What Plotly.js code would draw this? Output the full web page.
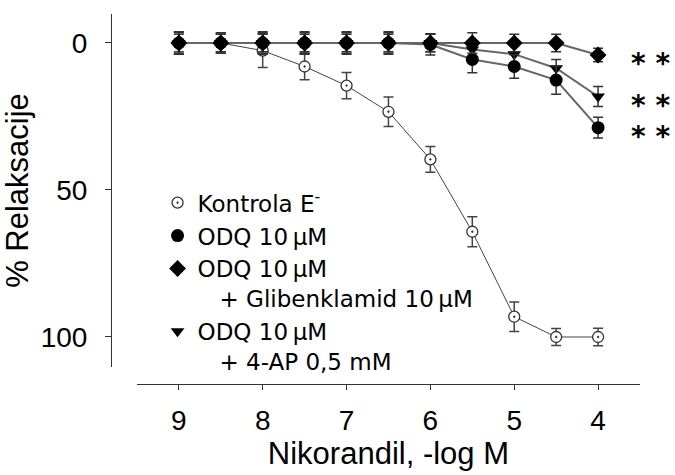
<!DOCTYPE html>
<html>
<head>
<meta charset="utf-8">
<script src="https://cdn.plot.ly/plotly-3.0.1.min.js"></script>
<style>html,body{margin:0;padding:0;background:#fff;}#chart{width:675px;height:475px;}</style>
</head>
<body>
<div id="chart"></div>
<script>
// -log M concentrations of nikorandil
const logM = [9, 8.5, 8, 7.5, 7, 6.5, 6, 5.5, 5, 4.5, 4];

// % relaxation (mean) and error (SEM)
const kontrola     = [0, 0, 2.6, 8.0, 14.5, 23.4, 39.6, 64.2, 93.1, 100, 100];
const kontrolaErr  = [3, 3, 5.7, 4.5, 4.5, 5.0, 4.4, 5.1, 5.0, 2.9, 3.0];

const odq          = [0, 0, 0, 0, 0, 0, 0.5, 5.6, 8.0, 12.6, 28.8];
const odqErr       = [3.8, 3.5, 3.5, 3.5, 3.5, 3.5, 3.6, 4.5, 4.0, 4.8, 3.5];

const odqGlib      = [0, 0, 0, 0, 0, 0, 0, 0, 0, 0, 4.1];
const odqGlibErr   = [3.8, 3.5, 3.8, 3.8, 3.8, 3.8, 3.0, 3.5, 3.0, 3.0, 2.3];

const odq4AP       = [0, 0, 0, 0, 0, 0, 0, 2.2, 3.8, 8.6, 18.2];
const odq4APErr    = [3.5, 3.0, 3.0, 3.0, 3.0, 3.0, 3.0, 3.0, 3.0, 3.0, 3.4];

const seriesNames = [
  'Kontrola E<sup>-</sup>',
  'ODQ 10\u2009µM',
  'ODQ 10\u2009µM<br>\u00a0\u00a0\u00a0+ Glibenklamid 10\u2009µM',
  'ODQ 10\u2009µM<br>\u00a0\u00a0\u00a0+ 4-AP 0,5 mM'
];
const xTickVals = [9, 8, 7, 6, 5, 4];
const yTickVals = [0, 50, 100];
const signifText = '*\u00a0*';

const FONT = '"Liberation Sans", Arial, sans-serif';
const LFONT = '"DejaVu Sans", "Liberation Sans", sans-serif';

function errCfg(arr, color) {
  return {type: 'data', array: arr, visible: true, color: color, thickness: 1.5, width: 5};
}

const series = [
  {y: kontrola, err: kontrolaErr, name: seriesNames[0], rank: 1,
   line: {color: '#444', width: 1},
   marker: {symbol: 'circle-dot', size: 11, color: '#fff', line: {color: '#333', width: 1.3}}, ecol: '#444'},
  {y: odq4AP, err: odq4APErr, name: seriesNames[3], rank: 4,
   line: {color: '#666', width: 2},
   marker: {symbol: 'triangle-down', size: 12, color: '#000'}, ecol: '#333'},
  {y: odq, err: odqErr, name: seriesNames[1], rank: 2,
   line: {color: '#666', width: 2},
   marker: {symbol: 'circle', size: 13, color: '#000'}, ecol: '#333'},
  {y: odqGlib, err: odqGlibErr, name: seriesNames[2], rank: 3,
   line: {color: '#666', width: 2},
   marker: {symbol: 'diamond', size: 13, color: '#000'}, ecol: '#333'}
];

const traces = [];
// connecting lines (no legend entries)
series.forEach(s => traces.push({
  x: logM, y: s.y, type: 'scatter', mode: 'lines', line: s.line,
  showlegend: false, hoverinfo: 'skip', cliponaxis: false
}));
// markers with error bars (legend shows markers only)
series.forEach(s => traces.push({
  x: logM, y: s.y, name: s.name, type: 'scatter', mode: 'markers',
  marker: s.marker, error_y: errCfg(s.err, s.ecol), legendrank: s.rank, cliponaxis: false
}));

const lastIdx = logM.length - 1;
const annotations = [odqGlib, odq4AP, odq].map(s => ({
  x: logM[lastIdx], y: s[lastIdx], xref: 'x', yref: 'y',
  text: '<b>' + signifText + '</b>', showarrow: false, xshift: 52, yshift: -8, height: 22,
  font: {family: LFONT, size: 28, color: '#000'}
}));

const layout = {
  width: 675, height: 475,
  margin: {l: 111, r: 35, t: 14, b: 91, pad: 0},
  paper_bgcolor: '#fff', plot_bgcolor: '#fff',
  font: {family: FONT, color: '#000'},
  showlegend: true,
  legend: {
    x: 0.088, y: 0.548, xanchor: 'left', yanchor: 'top',
    font: {family: LFONT, size: 23, color: '#000'},
    bgcolor: 'rgba(0,0,0,0)', borderwidth: 0, valign: 'top',
    tracegroupgap: 0, traceorder: 'normal', itemsizing: 'trace'
  },
  xaxis: {
    domain: [0.049, 1], anchor: 'free', position: 0,
    range: [9.5, 3.5], tickvals: xTickVals, ticktext: xTickVals.map(String),
    showgrid: false, zeroline: false, showline: true, linecolor: '#333', linewidth: 1,
    ticks: 'outside', ticklen: 5, tickcolor: '#333', tickwidth: 1,
    tickfont: {family: FONT, size: 28, color: '#000'}, ticklabelstandoff: 6,
    title: {text: 'Nikorandil, -log M', font: {family: FONT, size: 31, color: '#000'}, standoff: 4}
  },
  yaxis: {
    domain: [0.046, 1], anchor: 'free', position: 0,
    range: [110.2, -9.86], tickvals: yTickVals, ticktext: yTickVals.map(String),
    showgrid: false, zeroline: false, showline: true, linecolor: '#333', linewidth: 1,
    ticks: 'outside', ticklen: 6, tickcolor: '#333', tickwidth: 1,
    tickfont: {family: FONT, size: 28, color: '#000'}, ticklabelstandoff: 12,
    title: {text: '% Relaksacije', font: {family: FONT, size: 31, color: '#000'}, standoff: 12}
  },
  annotations: annotations
};

Plotly.newPlot('chart', traces, layout, {displayModeBar: false, staticPlot: true});
</script>
</body>
</html>
